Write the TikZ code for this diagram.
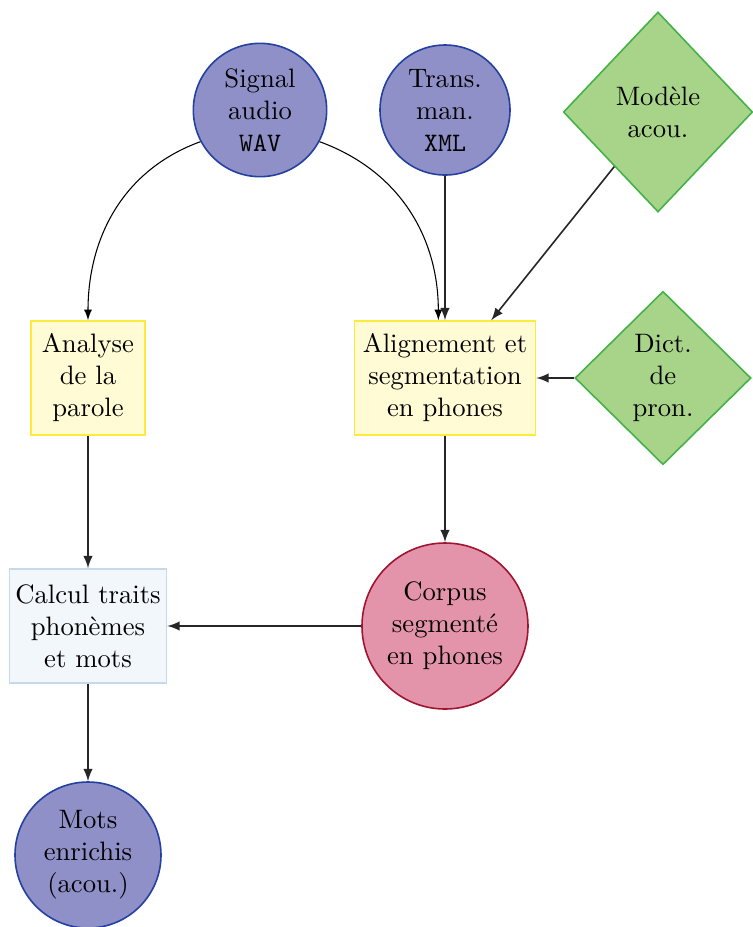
\documentclass[tikz,border=0pt]{standalone}
\usepackage{xcolor}
\usepackage{tikz}
\usetikzlibrary{shapes.geometric, positioning}

\definecolor{dataFill}{RGB}{144,144,200}
\definecolor{dataDraw}{RGB}{36,64,160}
\definecolor{resFill}{RGB}{168,212,138}
\definecolor{resDraw}{RGB}{68,178,72}
\definecolor{procFill}{RGB}{255,251,212}
\definecolor{procDraw}{RGB}{252,234,60}
\definecolor{calcFill}{RGB}{241,247,250}
\definecolor{calcDraw}{RGB}{196,218,234}
\definecolor{corpFill}{RGB}{228,148,170}
\definecolor{corpDraw}{RGB}{160,20,50}

\begin{document}
\begin{tikzpicture}[x=0.375pt,y=-0.375pt,>=latex,
                    data node/.style={circle,draw=dataDraw,fill=dataFill,semithick,align=center,inner sep=0pt},
                    res node/.style={diamond,draw=resDraw,fill=resFill,semithick,align=center,inner sep=0pt},
                    proc node/.style={rectangle,draw=procDraw,fill=procFill,semithick,align=center,
                                      minimum height=42.75pt,inner sep=2pt},
                    link/.style={->,semithick,draw=black!85}]

\useasboundingbox (0,0) rectangle (752,927);

%Sources
  \node[data node,minimum size=50pt] (Signal) at (260,110) {Signal\\audio\\\texttt{WAV}};
  \node[data node,minimum size=48.75pt] (Trans) at (445,110) {Trans.\\man.\\\texttt{XML}};
  \node[res node,minimum width=71pt,minimum height=75pt] (Model) at (658,112) {Modèle\\acou.};
  \node[res node,minimum width=66pt,minimum height=65pt] (Dict) at (663,378) {Dict.\\de\\pron.};

%Processing
  \node[proc node,minimum width=42.75pt] (Analyse) at (88,378) {Analyse\\de la\\parole};
  \node[proc node,minimum width=67.9pt] (Align) at (445,378) {Alignement et\\segmentation\\en phones};
  \node[proc node,draw=calcDraw,fill=calcFill,minimum width=58.9pt] (Calcul) at (88,626) {Calcul traits\\phonèmes\\et mots};

%Results
  \node[data node,draw=corpDraw,fill=corpFill,minimum size=62.25pt] (Corpus) at (445,626) {Corpus\\segmenté\\en phones};
  \node[data node,minimum size=54.75pt] (Mots) at (88,855) {Mots\\enrichis\\(acou.)};

%Links
  \draw[->,thin] (Signal.208) to[out=200,in=90] (Analyse.north);
  \draw[->,thin] (Signal.332) to[out=-20,in=90] ([xshift=-2.5pt]Align.north);
  \draw[link] (Trans) -- (Align);
  \draw[link] (Model) -- (Align);
  \draw[link] (Dict) -- (Align);
  \draw[link] (Align) -- (Corpus);
  \draw[link] (Analyse) -- (Calcul);
  \draw[link] (Corpus) -- (Calcul);
  \draw[link] (Calcul) -- (Mots);

\end{tikzpicture}
\end{document}
